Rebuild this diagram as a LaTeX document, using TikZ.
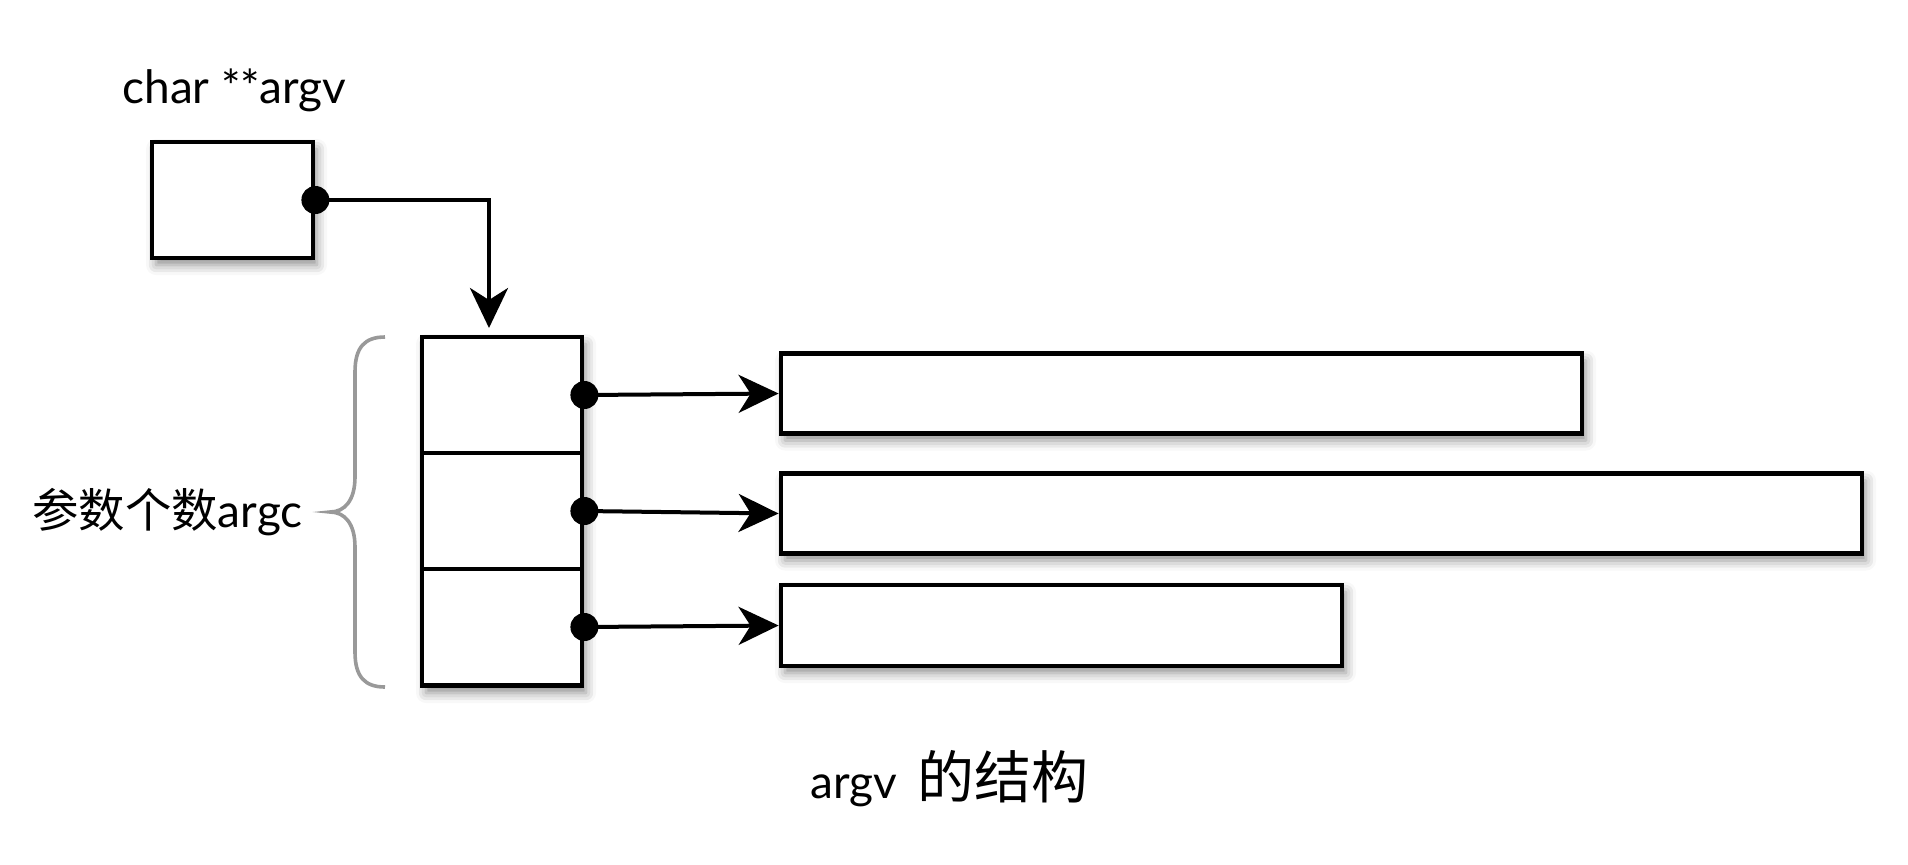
\documentclass[tikz,border=0pt]{standalone}
\usepackage{fontspec}
\setmainfont{Lato}
\newfontfamily\cjk{Noto Sans CJK SC}
\usetikzlibrary{arrows.meta,shadows.blur}
\begin{document}
\begin{tikzpicture}[x=0.5pt,y=-0.5pt,
  shad/.style={blur shadow={shadow xshift=2pt,shadow yshift=-3.5pt,shadow blur radius=5pt,shadow opacity=45}},
  box/.style={draw,line width=2.4pt,fill=white,inner sep=0pt},
  cell/.style={draw,line width=2.4pt,inner sep=0pt,minimum width=80pt,minimum height=58pt},
  conn/.style={line width=2pt,-{Stealth[length=20pt,width=19pt,inset=6pt]}},
  dot/.style={fill=black},
  lab/.style={anchor=base west,inner sep=0pt,font=\fontsize{23pt}{28pt}\selectfont},
  brace/.style={draw=black!40,line width=1.8pt}]
\useasboundingbox (0,0) rectangle (1908,864);
% top pointer box
\node[box,shad,minimum width=80.5pt,minimum height=58pt] (p) at (232.5,200) {};
\node[lab] (l1) at (122,103) {char **argv};
% array
\node[box,shad,minimum width=80pt,minimum height=174.5pt] (arr) at (502,511.5) {};
\node[cell] (c1) at (502,395) {};
\node[cell] (c2) at (502,511) {};
\node[cell] (c3) at (502,627) {};
% string boxes
\node[box,shad,minimum width=400.5pt,minimum height=40pt] (r1) at (1181.5,393.5) {};
\node[box,shad,minimum width=540.5pt,minimum height=40pt] (r2) at (1321.5,513.5) {};
\node[box,shad,minimum width=280.5pt,minimum height=40.5pt] (r3) at (1061.5,625.5) {};
% connectors
\coordinate (t) at (489,328);
\draw[conn] (p.east) -| (t);
\draw[conn] (c1.east) -- (r1.west);
\draw[conn] (c2.east) -- (r2.west);
\draw[conn] (c3.east) -- (r3.west);
\fill[dot] (p.east) circle[radius=7pt];
\fill[dot] (c1.east) circle[radius=7pt];
\fill[dot] (c2.east) circle[radius=7pt];
\fill[dot] (c3.east) circle[radius=7pt];
% brace
\draw[brace] (385,337) .. controls (365,337) and (355,347) .. (355,372) -- (355,477)
  .. controls (355,500) and (345,512) .. (330,512)
  .. controls (345,512) and (355,524) .. (355,547) -- (355,652)
  .. controls (355,677) and (365,687) .. (385,687);
\node[lab] (l2) at (32,527) {{\cjk\fontsize{23.2pt}{28pt}\selectfont 参数个数}argc};
\node[lab] (l3) at (810,798) {argv\hspace{10pt}{\cjk\fontsize{28.5pt}{32pt}\selectfont 的结构}};
\end{tikzpicture}
\end{document}
